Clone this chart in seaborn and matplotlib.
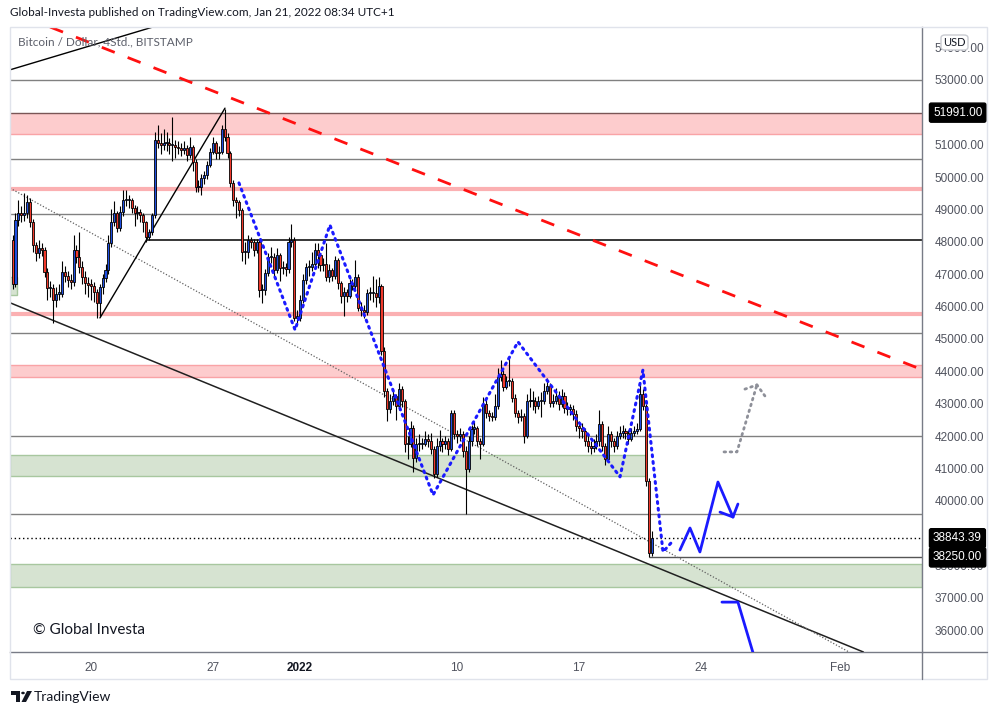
import numpy as np
import pandas as pd
import matplotlib
matplotlib.use("Agg")
import matplotlib.pyplot as plt
import matplotlib.dates as mdates
import matplotlib.transforms as mtransforms
from matplotlib.patches import Rectangle, Polygon, Circle, FancyBboxPatch
from matplotlib.lines import Line2D
import seaborn as sns

# ---------------- data ----------------
FIRST_OPEN = 48050
START = "2021-12-15 12:00"  # 4h candles

CLOSES = [
    46700, 48660, 48880, 48820, 48880, 49220, 48600, 47890, 47640, 47800,
    47740, 47060, 46560, 46560, 46190, 46400, 46400, 47060, 46960, 46810,
    46750, 47740, 47520, 47210, 46900, 46720, 46680, 46650, 46440, 46100,
    46590, 46870, 47120, 47950, 48600, 48880, 48420, 48910, 49290, 49290,
    49290, 49040, 48880, 48910, 48820, 48600, 48140, 48290, 48820, 51140,
    51050, 50990, 51050, 51050, 50990, 50990, 50930, 50900, 50830, 50900,
    50680, 50930, 50460, 49690, 49690, 49970, 50060, 50370, 50770, 51050,
    50740, 50770, 51480, 51230, 50740, 49810, 49290, 49220, 48980, 47680,
    47680, 48050, 47980, 47740, 47980, 46500, 46500, 47030, 47520, 47520,
    47120, 47580, 47180, 47210, 47150, 47980, 48050, 45660, 45660, 46190,
    46810, 47210, 47210, 47330, 47740, 47580, 47270, 47330, 46900, 47120,
    46960, 47430, 46720, 46340, 46440, 46340, 46720, 46650, 46900, 45970,
    45880, 45820, 46410, 46410, 46410, 46310, 46650, 44640, 43400, 42840,
    43090, 43250, 42940, 43460, 43090, 41760, 41760, 42260, 41330, 41760,
    41760, 41760, 41920, 41850, 41610, 40830, 41700, 41850, 41760, 41850,
    41610, 42720, 42070, 42010, 42070, 41540, 40990, 41850, 42230, 42260,
    41850, 41760, 43000, 42720, 42630, 42600, 42940, 43810, 43930, 43530,
    43710, 43710, 43190, 42720, 42600, 42630, 42010, 43090, 43090, 43090,
    42940, 43090, 43090, 43400, 43560, 43030, 43090, 43250, 43000, 43250,
    42880, 42850, 42850, 42690, 42320, 42260, 42160, 41850, 41700, 41640,
    41700, 41850, 42380, 41700, 41300, 42070, 41850, 41700, 42010, 42100,
    42160, 42100, 41920, 42100, 42160, 42230, 43310, 42940, 40620, 38390,
    38843.39,
]
HIGHS = [
    48200, 48900, 49300, 49100, 49500, 49450, 49350, 48700, 48000, 48050,
    47950, 47850, 47200, 46800, 46700, 46600, 46700, 47400, 47250, 47100,
    47000, 48200, 47900, 48300, 47400, 47100, 46900, 46850, 46750, 46550,
    46700, 47000, 47300, 48200, 49000, 49250, 48950, 49100, 49600, 49600,
    49450, 49350, 49150, 49100, 49000, 48900, 48650, 48400, 48900, 51400,
    51600, 51350, 51500, 51400, 51200, 51850, 51150, 51100, 51050, 51100,
    51000, 51250, 51000, 50550, 49900, 50100, 50200, 50500, 50900, 51250,
    51100, 50950, 51600, 52090, 51350, 50800, 49900, 49400, 49300, 49050,
    48000, 48200, 48150, 48100, 48100, 48050, 46700, 47150, 47650, 47850,
    47650, 47800, 47650, 47400, 47350, 48150, 48550, 48150, 45900, 46350,
    47000, 47350, 47450, 47700, 47950, 47950, 47650, 47500, 47950, 47300,
    47200, 47550, 47500, 46800, 46600, 46550, 46850, 46850, 47450, 47000,
    46150, 46050, 46550, 46600, 46950, 46850, 46900, 46700, 44750, 43500,
    43300, 43450, 43300, 43650, 43550, 43150, 42000, 42450, 42350, 41950,
    42050, 41950, 42150, 42050, 42100, 41700, 41950, 42200, 41950, 42000,
    41950, 42800, 42800, 42200, 42250, 42150, 41700, 42000, 42350, 42450,
    42300, 41950, 43200, 43100, 42800, 42750, 43300, 44100, 44350, 44050,
    43850, 44420, 43800, 43300, 42800, 42850, 42700, 43300, 43500, 43400,
    43200, 43250, 43350, 43650, 43800, 43650, 43300, 43500, 43400, 43450,
    43350, 43050, 43000, 42950, 42800, 42450, 42400, 42250, 42050, 41850,
    41900, 42050, 42800, 42450, 41800, 42300, 42150, 41950, 42150, 42300,
    42350, 42250, 42200, 42250, 42300, 42400, 43600, 43450, 43000, 40700,
    39080,
]
LOWS = [
    46550, 46600, 48500, 48600, 48650, 48750, 48450, 47700, 47400, 47500,
    47550, 46900, 46200, 46300, 45500, 46000, 46200, 46300, 46750, 46600,
    46550, 46650, 47350, 47050, 46700, 46400, 46300, 46200, 46150, 45650,
    45700, 46400, 46750, 47000, 47850, 48500, 48300, 48350, 48800, 49100,
    49050, 48900, 48500, 48700, 48600, 48300, 48000, 48050, 48200, 48750,
    50900, 50700, 50850, 50800, 50700, 50500, 50600, 50700, 50650, 50700,
    50500, 50600, 50200, 49550, 49550, 49450, 49800, 49950, 50300, 50700,
    50550, 50550, 50700, 51100, 50600, 49700, 49100, 48750, 48800, 47400,
    47300, 47500, 47800, 47550, 47650, 46300, 46100, 46350, 46950, 47350,
    46950, 47050, 46800, 47000, 46950, 47050, 47850, 45550, 45500, 45550,
    46100, 46700, 46950, 47100, 47250, 47200, 47100, 47100, 46800, 46750,
    46800, 46850, 46550, 46100, 45700, 46150, 46250, 46500, 46550, 45850,
    45700, 45650, 45750, 46200, 46150, 46000, 46100, 44500, 43200, 42450,
    42700, 42950, 42500, 42800, 42900, 41500, 41300, 41650, 40900, 41200,
    41550, 41600, 41700, 41650, 41450, 40700, 40750, 41550, 41500, 41600,
    41400, 41550, 41900, 41800, 41850, 41350, 39600, 40900, 41700, 42050,
    41700, 41300, 41700, 42550, 42450, 42450, 42500, 42850, 43700, 43400,
    43450, 43550, 43050, 42600, 42400, 42450, 41800, 41950, 42900, 42800,
    42700, 42850, 42600, 43000, 43300, 42900, 42900, 43000, 42800, 42900,
    42700, 42650, 42650, 42500, 42150, 41950, 41950, 41700, 41500, 41450,
    41500, 41600, 41700, 41550, 41100, 41200, 41650, 41500, 41600, 41900,
    41950, 41900, 41750, 41850, 42000, 42050, 42150, 42800, 40450, 38250,
    38300,
]

# drawn levels / zones (price)
GRAY_LEVELS = [53000, 50560, 48860, 45180, 42000, 39590]
PINK_LEVELS = [49640, 45770]
BLACK_LEVEL = (48055, "2021-12-23 05:00")
RED_ZONES = [(51330, 51991), (43820, 44190)]
GREEN_ZONE_MID = (40760, 41410, "2022-01-20 20:00")
GREEN_ZONE_LOW = (37340, 38050)
GREEN_BOX_LEFT = (46350, 46900, "2021-12-15 18:00")
LAST_PRICE = 38843.39
SUPPORT = (38250, "2022-01-21 00:00")

# trend lines (two anchor points each, time / price)
RED_TREND = [("2022-01-18 05:00", 47960), ("2022-02-02 12:30", 44720)]
TOP_LEFT_LINE = [("2021-12-17 06:00", 53620), ("2021-12-23 13:20", 54637)]
CHANNEL_LOW = [("2022-01-01 00:00", 42450), ("2022-01-29 16:20", 36130)]
DOTTED_TREND = [("2021-12-15 08:28", 49660), ("2022-01-29 16:20", 36165)]
RISE_LINE = [("2021-12-20 12:20", 45650), ("2021-12-27 16:30", 52130)]

# projections
BLUE_DOT_T = ["2021-12-28 11:45", "2021-12-31 17:00", "2022-01-02 17:00", "2022-01-08 15:00",
              "2022-01-13 12:00", "2022-01-19 08:30", "2022-01-20 16:00", "2022-01-21 19:40",
              "2022-01-22 08:00"]
BLUE_DOT_P = [49820, 45280, 48520, 40180, 44910, 40740, 44040, 38420, 38730]
BLUE_UP_T = ["2022-01-22 19:00", "2022-01-23 08:50", "2022-01-23 22:30", "2022-01-24 23:20",
             "2022-01-25 20:00"]
BLUE_UP_P = [38480, 39160, 38420, 40580, 39500]
BLUE_UP_HEAD = [("2022-01-25 02:10", 39650), ("2022-01-26 02:50", 39900)]
BLUE_DOWN_T = ["2022-01-25 04:50", "2022-01-26 02:50", "2022-01-27 03:40"]
BLUE_DOWN_P = [36870, 36870, 35000]
GRAY_ARROW_T = ["2022-01-25 07:40", "2022-01-26 01:30", "2022-01-27 05:00"]
GRAY_ARROW_P = [41510, 41510, 43580]
GRAY_HEAD = [("2022-01-26 12:30", 43450), ("2022-01-27 16:00", 43240)]

DATE_TICKS = ["2021-12-20", "2021-12-27", "2022-01-01", "2022-01-10", "2022-01-17",
              "2022-01-24", "2022-02-01"]
DATE_LABELS = ["20", "27", "2022", "10", "17", "24", "Feb"]
# 39000 sits fully behind the last-price tag in the reference, so it is left out
PRICE_TICKS = [36000, 37000, 38000, 40000, 41000, 42000, 43000, 44000, 45000, 46000,
               47000, 48000, 49000, 50000, 51000, 52000, 53000, 54000]


def num(s):
    return mdates.date2num(pd.Timestamp(s))


W, H = 997, 715
sns.set_style("white")
plt.rcParams["font.family"] = ["Lato", "DejaVu Sans"]

fig = plt.figure(figsize=(W / 100, H / 100), dpi=100)
ax = fig.add_axes([10 / W, 1 - 652 / H, 912 / W, 625 / H])

x_left, x_right = num("2021-12-15 08:28"), num("2022-02-05 16:19")
ax.set_xlim(x_left, x_right)
ax.set_ylim(35329, 54637)

# ---------------- zones and levels ----------------
for lo, hi in RED_ZONES:
    ax.axhspan(lo, hi, color="#fdcccd", lw=0, zorder=1)
    ax.axhline(lo, color="#f9a3a6", lw=1, zorder=1.1)
ax.axhline(RED_ZONES[0][1], color="#7a5656", lw=1, zorder=1.1)
ax.axhline(RED_ZONES[1][1], color="#f9a3a6", lw=1, zorder=1.1)

lo, hi, end = GREEN_ZONE_MID
ax.add_patch(Rectangle((x_left, lo), num(end) - x_left, hi - lo, fc="#d6e3d1", ec="#a8c79f", lw=1, zorder=1))
lo, hi = GREEN_ZONE_LOW
ax.add_patch(Rectangle((x_left, lo), x_right - x_left, hi - lo, fc="#d6e3d1", ec="#a8c79f", lw=1, zorder=1))
lo, hi, end = GREEN_BOX_LEFT
ax.add_patch(Rectangle((x_left, lo), num(end) - x_left, hi - lo, fc="#d6e3d1", ec="#a8c79f", lw=1, zorder=1))

for lv in GRAY_LEVELS:
    ax.axhline(lv, color="#808080", lw=1, zorder=1.2)
for lv in PINK_LEVELS:
    ax.axhline(lv, color="#fbb0b2", lw=3, zorder=1.2)
ax.hlines(BLACK_LEVEL[0], num(BLACK_LEVEL[1]), x_right, color="black", lw=1.1, zorder=1.2)
ax.hlines(SUPPORT[0], num(SUPPORT[1]), x_right, color="#555555", lw=1, zorder=1.2)
ax.axhline(LAST_PRICE, color="black", lw=1, ls=(0, (1, 2)), zorder=1.2)

# ---------------- trend lines ----------------
def anchor(pts):
    return [(num(t), p) for t, p in pts]

a, b = anchor(RED_TREND)
ax.axline(a, b, color="#ff1010", lw=2, ls=(0, (5, 5)), zorder=4)
a, b = anchor(TOP_LEFT_LINE)
ax.axline(a, b, color="black", lw=1, zorder=4)
a, b = anchor(CHANNEL_LOW)
ax.axline(a, b, color="#202020", lw=1.1, zorder=4)
a, b = anchor(DOTTED_TREND)
ax.axline(a, b, color="#606060", lw=0.9, ls=(0, (1, 1.5)), zorder=4)
a, b = anchor(RISE_LINE)
ax.plot([a[0], b[0]], [a[1], b[1]], color="black", lw=1, zorder=4)

# ---------------- candles ----------------
times = pd.date_range(START, periods=len(CLOSES), freq="4h")
xs = mdates.date2num(times)
closes = np.array(CLOSES, dtype=float)
opens = np.concatenate([[FIRST_OPEN], closes[:-1]])
highs = np.array(HIGHS, dtype=float)
lows = np.array(LOWS, dtype=float)
up = closes >= opens
colors = np.where(up, "#1f4fe0", "#f0392b")
bottoms = np.minimum(opens, closes)
heights = np.maximum(np.abs(closes - opens), 35)

ax.vlines(xs, lows, highs, color="black", lw=0.8, zorder=5)
ax.bar(xs, heights, bottom=bottoms, width=0.12, color=colors, edgecolor="black", linewidth=0.6, zorder=6)

# ---------------- projections ----------------
sns.lineplot(x=[num(t) for t in BLUE_DOT_T], y=BLUE_DOT_P, sort=False, estimator=None,
             color="#1a1aff", lw=2.2, linestyle=(0, (0.6, 1.6)), dash_capstyle="round", ax=ax, zorder=7)
sns.lineplot(x=[num(t) for t in BLUE_UP_T], y=BLUE_UP_P, sort=False, estimator=None,
             color="#1a1aff", lw=2, ax=ax, zorder=7)
tip = (num(BLUE_UP_T[-1]), BLUE_UP_P[-1])
for t, p in BLUE_UP_HEAD:
    ax.plot([num(t), tip[0]], [p, tip[1]], color="#1a1aff", lw=2, zorder=7)
sns.lineplot(x=[num(t) for t in BLUE_DOWN_T], y=BLUE_DOWN_P, sort=False, estimator=None,
             color="#1a1aff", lw=2, ax=ax, zorder=7)
sns.lineplot(x=[num(t) for t in GRAY_ARROW_T], y=GRAY_ARROW_P, sort=False, estimator=None,
             color="#8e9099", lw=2, linestyle=(0, (0.6, 1.6)), dash_capstyle="round", ax=ax, zorder=7)
tip = (num(GRAY_ARROW_T[-1]), GRAY_ARROW_P[-1])
for t, p in GRAY_HEAD:
    ax.plot([num(t), tip[0]], [p, tip[1]], color="#8e9099", lw=2, ls=(0, (0.6, 1.6)),
            dash_capstyle="round", zorder=7)

# ---------------- axes ----------------
ax.set_xticks([num(d) for d in DATE_TICKS])
ax.set_xticklabels(DATE_LABELS)
for lbl in ax.get_xticklabels():
    lbl.set_color("#131722" if lbl.get_text() == "2022" else "#50535e")
    if lbl.get_text() == "2022":
        lbl.set_fontweight("bold")
ax.yaxis.tick_right()
ax.set_yticks(PRICE_TICKS)
ax.set_yticklabels([f"{v:.2f}" for v in PRICE_TICKS])
ax.tick_params(axis="x", length=0, pad=7, labelsize=8.5)
ax.tick_params(axis="y", length=0, pad=9, labelsize=8.5, labelcolor="#50535e")
for lbl in ax.get_yticklabels():
    lbl.set_family(["Liberation Sans", "DejaVu Sans"])
for lbl in ax.get_xticklabels():
    lbl.set_family(["Liberation Sans", "DejaVu Sans"])
ax.set_xlabel("")
ax.set_ylabel("")
ax.grid(False)
for side in ["top", "left"]:
    ax.spines[side].set_visible(False)
ax.spines["right"].set_color("#787b86")
ax.spines["bottom"].set_color("#787b86")
ax.spines["right"].set_linewidth(1)
ax.spines["bottom"].set_linewidth(1)

# price tags on the right
blend = mtransforms.blended_transform_factory(ax.transAxes, ax.transData)
for price, txt in [(51991, "51991.00"), (LAST_PRICE, "38843.39"), (38250, "38250.00")]:
    ax.text(1 + 11 / 912, price, txt, transform=blend, ha="left", va="center", color="white",
            fontsize=8.5, family=["Liberation Sans", "DejaVu Sans"], clip_on=False, zorder=20,
            bbox=dict(boxstyle="round,pad=0.3,rounding_size=0.15", fc="black", ec="black"))

# ---------------- figure furniture ----------------
def fx(px):
    return px / W


def fy(py):
    return 1 - py / H


fig.add_artist(Rectangle((fx(10), fy(679)), fx(977), (679 - 27) / H, fill=False,
                         ec="#e0e3eb", lw=1, transform=fig.transFigure))
fig.add_artist(Line2D([fx(922), fx(922)], [fy(652), fy(679)], color="#787b86", lw=1))
fig.add_artist(Line2D([fx(922), fx(987)], [fy(652), fy(652)], color="#787b86", lw=1))

usd = FancyBboxPatch((fx(941), fy(50)), fx(27), 15 / H, boxstyle="round,pad=0,rounding_size=0.004",
                     fc="white", ec="#c9cbd1", lw=1, transform=fig.transFigure, zorder=30)
fig.add_artist(usd)
fig.text(fx(954.5), fy(42), "USD", ha="center", va="center", fontsize=8, color="#131722", zorder=31)

fig.text(fx(10), fy(13), "Global-Investa published on TradingView.com, Jan 21, 2022 08:34 UTC+1",
         ha="left", va="center", fontsize=8.5, color="#131722")
fig.text(fx(18), fy(42), "Bitcoin / Dollar, 4Std., BITSTAMP", ha="left", va="center",
         fontsize=8.5, color="#5d606b", zorder=30)
fig.text(fx(33), fy(630), "\u00a9 Global Investa", ha="left", va="center", fontsize=11, color="#131722")

# TradingView logo + wordmark
fig.add_artist(Polygon([(fx(11), fy(691)), (fx(20), fy(691)), (fx(20), fy(702)), (fx(16), fy(702)),
                        (fx(16), fy(695)), (fx(11), fy(695))], closed=True, fc="#131722", ec="none",
                       transform=fig.transFigure))
fig.add_artist(Circle((fx(23), fy(693)), 1.8 / W, fc="#131722", ec="none", transform=fig.transFigure))
fig.add_artist(Polygon([(fx(27), fy(691)), (fx(32), fy(691)), (fx(26), fy(702)), (fx(21.5), fy(702))],
                       closed=True, fc="#131722", ec="none", transform=fig.transFigure))
fig.text(fx(34), fy(697), "TradingView", ha="left", va="center", fontsize=10, color="#131722")

fig.savefig("out.png", dpi=100)
